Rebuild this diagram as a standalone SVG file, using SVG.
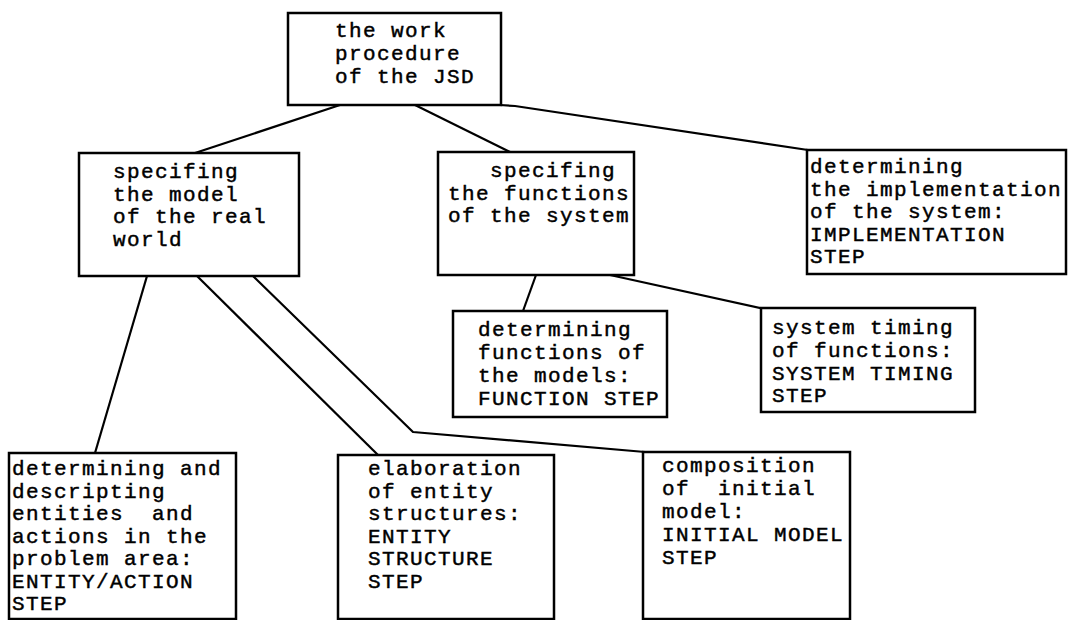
<svg xmlns="http://www.w3.org/2000/svg" width="1068" height="620" viewBox="0 0 1068 620">
<style>
.box{fill:#fff;stroke:#000;stroke-width:2.5}
.ln{fill:none;stroke:#000;stroke-width:2.2;stroke-linejoin:round}
text{font-family:"Liberation Mono","DejaVu Sans Mono",monospace;font-size:21px;letter-spacing:1.4px;fill:#000;stroke:#000;stroke-width:0.45;white-space:pre}
</style>
<rect width="1068" height="620" fill="#fff"/>
<g id="connectors">
<polyline class="ln" points="340,105 195,153"/>
<polyline class="ln" points="415,105 510,152"/>
<polyline class="ln" points="500,105 515,106 808,150"/>
<polyline class="ln" points="147,276 95,453"/>
<polyline class="ln" points="197,276 378,455"/>
<polyline class="ln" points="253,276 413,432 645,452"/>
<polyline class="ln" points="536,275 523,311"/>
<polyline class="ln" points="610,275 765,309"/>
</g>
<g id="n_top">
<rect class="box" x="288" y="13" width="213" height="92"/>
<text x="335" y="37">the work</text>
<text x="335" y="60">procedure</text>
<text x="335" y="83">of the JSD</text>
</g>
<g id="n_model">
<rect class="box" x="79" y="153" width="220" height="123"/>
<text x="113" y="178">specifing</text>
<text x="113" y="201">the model</text>
<text x="113" y="223">of the real</text>
<text x="113" y="246">world</text>
</g>
<g id="n_functions">
<rect class="box" x="438" y="152" width="196" height="123"/>
<text x="490" y="177">specifing</text>
<text x="448" y="199.5">the functions</text>
<text x="448" y="222">of the system</text>
</g>
<g id="n_implementation">
<rect class="box" x="807" y="150" width="259" height="124"/>
<text x="810" y="173">determining</text>
<text x="810" y="195.5">the implementation</text>
<text x="810" y="218">of the system:</text>
<text x="810" y="240.5">IMPLEMENTATION</text>
<text x="810" y="263">STEP</text>
</g>
<g id="n_function_step">
<rect class="box" x="453" y="311" width="214" height="106"/>
<text x="478" y="336">determining</text>
<text x="478" y="359">functions of</text>
<text x="478" y="382">the models:</text>
<text x="478" y="405">FUNCTION STEP</text>
</g>
<g id="n_timing">
<rect class="box" x="761" y="308" width="214" height="104"/>
<text x="772" y="334">system timing</text>
<text x="772" y="357">of functions:</text>
<text x="772" y="379.5">SYSTEM TIMING</text>
<text x="772" y="402">STEP</text>
</g>
<g id="n_entity_action">
<rect class="box" x="9" y="453" width="227" height="166"/>
<text x="12" y="475">determining and</text>
<text x="12" y="497.5">descripting</text>
<text x="12" y="520">entities  and</text>
<text x="12" y="542.5">actions in the</text>
<text x="12" y="565">problem area:</text>
<text x="12" y="587.5">ENTITY/ACTION</text>
<text x="12" y="610">STEP</text>
</g>
<g id="n_entity_structure">
<rect class="box" x="338" y="455" width="216" height="164"/>
<text x="368" y="475">elaboration</text>
<text x="368" y="497.5">of entity</text>
<text x="368" y="520">structures:</text>
<text x="368" y="542.5">ENTITY</text>
<text x="368" y="565">STRUCTURE</text>
<text x="368" y="587.5">STEP</text>
</g>
<g id="n_initial_model">
<rect class="box" x="643" y="452" width="207" height="167"/>
<text x="662" y="472">composition</text>
<text x="662" y="495">of  initial</text>
<text x="662" y="518">model:</text>
<text x="662" y="541">INITIAL MODEL</text>
<text x="662" y="564">STEP</text>
</g>
</svg>
